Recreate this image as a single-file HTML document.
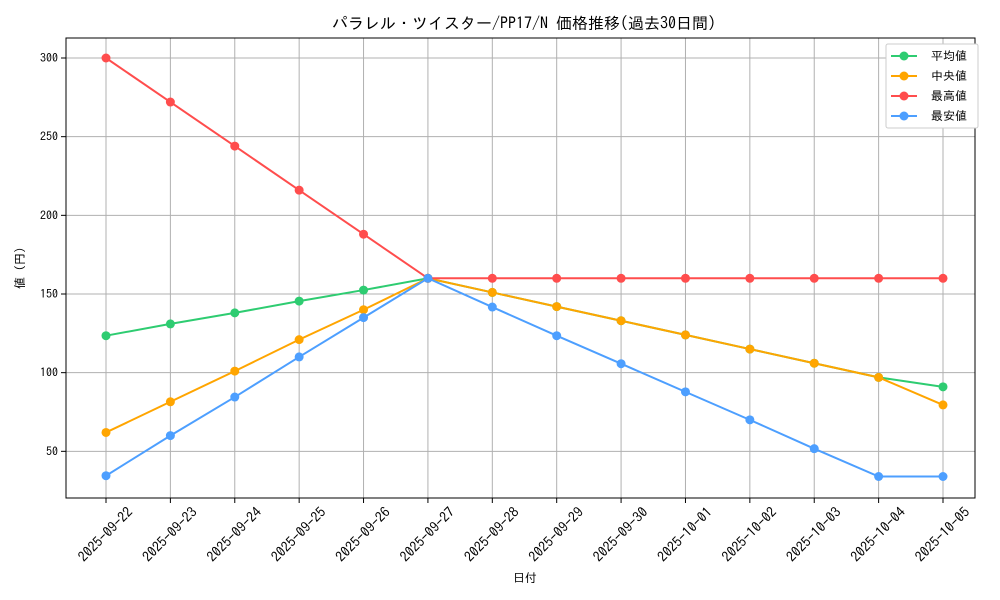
<!DOCTYPE html>
<html><head><meta charset="utf-8"><style>body{margin:0;background:#fff}svg{display:block;font-family:"IPAGothic","Liberation Sans","Noto Sans CJK JP",sans-serif}</style></head><body>
<svg width="1000" height="600" viewBox="0 0 1000 600" xmlns="http://www.w3.org/2000/svg">
<rect width="1000" height="600" fill="#fff"/>
<text x="524" y="29" font-size="16" text-anchor="middle" fill="#000">パラレル・ツイスター/PP17/N 価格推移(過去30日間)</text>
<g id="grid" stroke="#b0b0b0" stroke-width="1"></g>
<rect x="66" y="38" width="909" height="460" fill="none" stroke="#000" stroke-width="1"/>
<g id="ticks" font-size="12" fill="#000"></g>
<g id="series"></g>
<text x="525" y="582" font-size="12" text-anchor="middle">日付</text>
<text x="24" y="268" font-size="12" text-anchor="middle" transform="rotate(-90 24 268)">値 (円)</text>
<g font-size="12">
<rect x="886" y="44" width="92" height="84" fill="#fff" stroke="#ccc" rx="2"/>
<line x1="891" y1="56" x2="917" y2="56" stroke="#2ecc71" stroke-width="2"/><circle cx="904" cy="56" r="4.5" fill="#2ecc71"/><text x="931" y="60">平均値</text>
<line x1="891" y1="76" x2="917" y2="76" stroke="#ffa500" stroke-width="2"/><circle cx="904" cy="76" r="4.5" fill="#ffa500"/><text x="931" y="80">中央値</text>
<line x1="891" y1="96" x2="917" y2="96" stroke="#ff4d4d" stroke-width="2"/><circle cx="904" cy="96" r="4.5" fill="#ff4d4d"/><text x="931" y="100">最高値</text>
<line x1="891" y1="116" x2="917" y2="116" stroke="#4d9fff" stroke-width="2"/><circle cx="904" cy="116" r="4.5" fill="#4d9fff"/><text x="931" y="120">最安値</text>
</g>
</svg>
<script>
const ns="http://www.w3.org/2000/svg";
const X=i=>106+i*64.385, Y=v=>294-(v-150)*1.5733;
const g=document.getElementById('grid'),t=document.getElementById('ticks'),s=document.getElementById('series');
function el(p,n,a,txt){const e=document.createElementNS(ns,n);for(const k in a)e.setAttribute(k,a[k]);if(txt)e.textContent=txt;p.appendChild(e);return e;}
const dates=["2025-09-22","2025-09-23","2025-09-24","2025-09-25","2025-09-26","2025-09-27","2025-09-28","2025-09-29","2025-09-30","2025-10-01","2025-10-02","2025-10-03","2025-10-04","2025-10-05"];
dates.forEach((d,i)=>{const x=X(i);el(g,'line',{x1:x,x2:x,y1:38,y2:498});el(t,'line',{x1:x,x2:x,y1:498,y2:503,stroke:'#000'});
el(t,'text',{x:x,y:539,'text-anchor':'middle','font-size':14,transform:`rotate(-45 ${x} 535)`},d);});
[50,100,150,200,250,300].forEach(v=>{const y=Y(v);el(g,'line',{x1:66,x2:975,y1:y,y2:y});el(t,'line',{x1:61,x2:66,y1:y,y2:y,stroke:'#000'});el(t,'text',{x:58,y:y+4,'text-anchor':'end'},v);});
const S=[
["#2ecc71",[123.5,131,138,145.5,152.5,160,151,142,133,124,115,106,97,91]],
["#ffa500",[62,81.5,101,121,140,160,151,142,133,124,115,106,97,79.5]],
["#ff4d4d",[300,272,244,216,188,160,160,160,160,160,160,160,160,160]],
["#4d9fff",[34.5,60,84.5,110,135,160,141.7,123.5,105.7,87.8,70,51.7,34,34]]];
S.forEach(([c,d])=>{el(s,'polyline',{points:d.map((v,i)=>X(i)+','+Y(v)).join(' '),fill:'none',stroke:c,'stroke-width':2});
d.forEach((v,i)=>el(s,'circle',{cx:X(i),cy:Y(v),r:4.5,fill:c}));});
</script>
</body></html>
